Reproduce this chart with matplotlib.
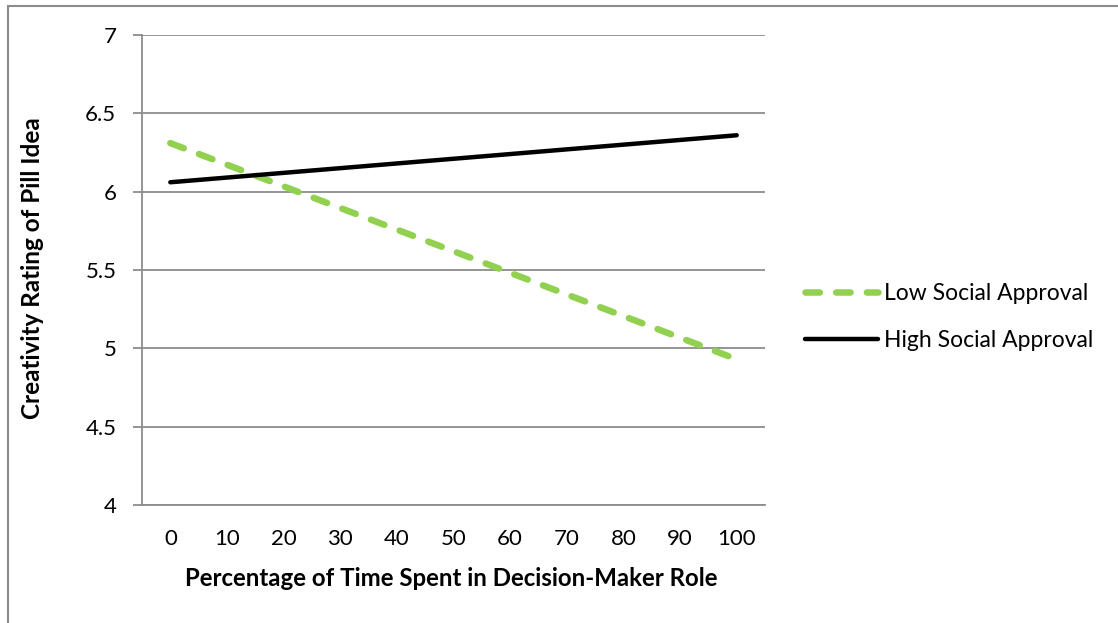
import matplotlib
matplotlib.use("Agg")
import matplotlib.pyplot as plt
from matplotlib.patches import Rectangle

categories = ["0", "10", "20", "30", "40", "50", "60", "70", "80", "90", "100"]
low_start, low_end = 6.31, 4.93
high_start, high_end = 6.06, 6.36
y_ticks = [4, 4.5, 5, 5.5, 6, 6.5, 7]
y_tick_labels = ["4", "4.5", "5", "5.5", "6", "6.5", "7"]

plt.rcParams["font.family"] = ["Lato", "DejaVu Sans"]

W, H = 1118, 623
fig = plt.figure(figsize=(W / 100, H / 100), dpi=100)
ax = fig.add_axes([142 / W, 1 - 505 / H, (765 - 142) / W, (505 - 35) / H])

n = len(categories)
x_first, x_last = 0, n - 1
ax.plot([x_first, x_last], [low_start, low_end], color="#92d050", lw=4.7,
        dashes=(2.2, 2.5), dash_capstyle="round", solid_capstyle="round",
        label="Low Social Approval", zorder=3)
ax.plot([x_first, x_last], [high_start, high_end], color="black", lw=3.2,
        solid_capstyle="round", label="High Social Approval", zorder=3)

ax.set_xlim(-0.5, n - 0.5)
ax.set_ylim(4, 7)
ax.set_xticks(range(n))
ax.set_xticklabels(categories, fontsize=16)
ax.set_yticks(y_ticks)
ax.set_yticklabels(y_tick_labels, fontsize=16)
ax.tick_params(axis="x", length=0, pad=17)
ax.tick_params(axis="y", length=6.5, width=1.3, color="#8c8c8c", pad=12)

ax.grid(axis="y", color="#8c8c8c", lw=1.3)
ax.set_axisbelow(True)
for side in ("top", "right"):
    ax.spines[side].set_visible(False)
for side in ("left", "bottom"):
    ax.spines[side].set_color("#8c8c8c")
    ax.spines[side].set_linewidth(1.3)

ax.set_xlabel("Percentage of Time Spent in Decision-Maker Role",
              fontsize=17.3, fontweight="bold", va="center")
ax.xaxis.set_label_coords(0.497, -0.157)
ax.set_ylabel("Creativity Rating of Pill Idea", fontsize=17.5,
              fontweight="bold", va="center")
ax.yaxis.set_label_coords(-0.175, 0.505)

leg = ax.legend(loc="center left", bbox_to_anchor=(1.064, 0.40), frameon=False,
                fontsize=16.5, handlelength=3.2, handletextpad=0.25,
                labelspacing=1.1, borderpad=0, borderaxespad=0)

# outer chart frame
fig.patches.append(Rectangle((8 / W, -0.1), 1.2, 1 - 6 / H + 0.1,
                             transform=fig.transFigure, fill=False,
                             edgecolor="#8c8c8c", lw=1.5))

fig.savefig("out.png", dpi=100, facecolor="white")
